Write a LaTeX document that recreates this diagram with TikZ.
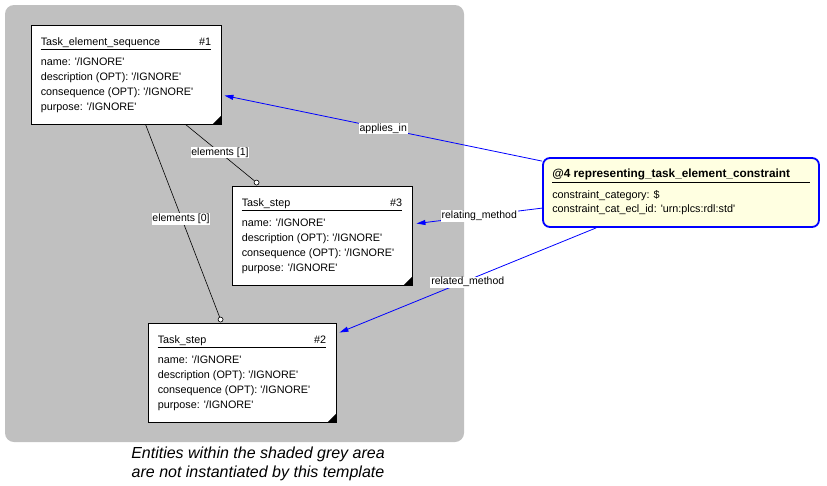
\documentclass[tikz,border=0pt]{standalone}
\usepackage{fontspec}
\setmainfont{Liberation Sans}
\usetikzlibrary{calc,arrows.meta}
\definecolor{greyarea}{RGB}{192,192,192}
\definecolor{notebg}{RGB}{255,255,225}
\definecolor{linkblue}{RGB}{0,0,255}
\newcommand\sq{\textquotesingle}
\begin{document}
\begin{tikzpicture}[x=1pt,y=-1pt,
  entity/.style={draw=black, fill=white, line width=0.9pt, inner sep=0pt},
  txt/.style={anchor=base west, inner sep=0pt, font=\fontsize{10.8}{12}\selectfont},
  num/.style={anchor=base east, inner sep=0pt, font=\fontsize{10.8}{12}\selectfont},
  ttl/.style={anchor=base west, inner sep=0pt, font=\fontsize{11.8}{13}\bfseries},
  uline/.style={line width=0.9pt},
  lbl/.style={fill=white, inner sep=0.8pt, font=\fontsize{10.5}{12}\selectfont},
  endcirc/.style={circle, draw=black, fill=white, line width=0.6pt, inner sep=0pt, minimum size=5pt},
  blk/.style={draw=black, line width=0.6pt},
  blu/.style={draw=linkblue, line width=0.8pt, -{Triangle[length=9pt,width=5pt]}},
  corner/.style={fill=black}
]
\useasboundingbox (0,0) rectangle (827,485);
\fill[greyarea, rounded corners=9pt] (5,5) rectangle (464,442);

% Box 1
\node[entity, minimum width=190pt, minimum height=99pt] (b1) at (126,74.5) {};
\node[txt] (b1t) at ($(b1.north west)+(10,21)$) {Task\_element\_sequence};
\node[num] (b1n) at ($(b1.north east)+(-10,21)$) {\#1};
\draw[uline] ($(b1.north west)+(10,25)$) -- ($(b1.north east)+(-10,25)$);
\node[txt] (b1a) at ($(b1.north west)+(10,41)$) {name: \sq/IGNORE\sq};
\node[txt] (b1b) at ($(b1.north west)+(10,56)$) {description (OPT): \sq/IGNORE\sq};
\node[txt] (b1c) at ($(b1.north west)+(10,71)$) {consequence (OPT): \sq/IGNORE\sq};
\node[txt] (b1d) at ($(b1.north west)+(10,86)$) {purpose: \sq/IGNORE\sq};
\fill[corner] ($(b1.south east)+(-9,0)$) -- (b1.south east) -- ($(b1.south east)+(0,-9)$) -- cycle;

% Box 3
\node[entity, minimum width=180pt, minimum height=99pt] (b3) at (322,235.5) {};
\node[txt] (b3t) at ($(b3.north west)+(10,21)$) {Task\_step};
\node[num] (b3n) at ($(b3.north east)+(-10,21)$) {\#3};
\draw[uline] ($(b3.north west)+(10,25)$) -- ($(b3.north east)+(-10,25)$);
\node[txt] (b3a) at ($(b3.north west)+(10,41)$) {name: \sq/IGNORE\sq};
\node[txt] (b3b) at ($(b3.north west)+(10,56)$) {description (OPT): \sq/IGNORE\sq};
\node[txt] (b3c) at ($(b3.north west)+(10,71)$) {consequence (OPT): \sq/IGNORE\sq};
\node[txt] (b3d) at ($(b3.north west)+(10,86)$) {purpose: \sq/IGNORE\sq};
\fill[corner] ($(b3.south east)+(-9,0)$) -- (b3.south east) -- ($(b3.south east)+(0,-9)$) -- cycle;

% Box 2
\node[entity, minimum width=188pt, minimum height=99pt] (b2) at (242,372.5) {};
\node[txt] (b2t) at ($(b2.north west)+(10,21)$) {Task\_step};
\node[num] (b2n) at ($(b2.north east)+(-10,21)$) {\#2};
\draw[uline] ($(b2.north west)+(10,25)$) -- ($(b2.north east)+(-10,25)$);
\node[txt] (b2a) at ($(b2.north west)+(10,41)$) {name: \sq/IGNORE\sq};
\node[txt] (b2b) at ($(b2.north west)+(10,56)$) {description (OPT): \sq/IGNORE\sq};
\node[txt] (b2c) at ($(b2.north west)+(10,71)$) {consequence (OPT): \sq/IGNORE\sq};
\node[txt] (b2d) at ($(b2.north west)+(10,86)$) {purpose: \sq/IGNORE\sq};
\fill[corner] ($(b2.south east)+(-9,0)$) -- (b2.south east) -- ($(b2.south east)+(0,-9)$) -- cycle;

% Box 4
\node[draw=linkblue, fill=notebg, line width=1.8pt, rounded corners=7pt, inner sep=0pt,
      minimum width=276pt, minimum height=69pt] (b4) at (681,192.5) {};
\node[ttl] (b4t) at ($(b4.north west)+(10,20)$) {@4 representing\_task\_element\_constraint};
\draw[uline] ($(b4.north west)+(10,25)$) -- ($(b4.north east)+(-10,25)$);
\node[txt] (b4a) at ($(b4.north west)+(10,41)$) {constraint\_category: \$};
\node[txt] (b4b) at ($(b4.north west)+(10,55)$) {constraint\_cat\_ecl\_id: \sq urn:plcs:rdl:std\sq};

% Connectors: elements
\coordinate (e1s) at ($(b1.south west)+(155,0)$);
\node[endcirc] (c1) at ($(b3.north west)+(25,-3)$) {};
\draw[blk] (e1s) -- (c1) node[lbl, pos=0.5] {elements [1]};
\coordinate (e0s) at ($(b1.south west)+(115,0)$);
\node[endcirc] (c0) at ($(b2.north west)+(73,-3)$) {};
\draw[blk] (e0s) -- (c0) node[lbl, pos=0.48, yshift=-2pt] {elements [0]};

% Connectors: blue
\coordinate (a1s) at ($(b4.north west)+(0,4)$);
\coordinate (a1e) at ($(b1.north east)+(3,71)$);
\draw[blu] (a1s) -- (a1e) node[lbl, pos=0.5] {applies\_in};
\coordinate (a2s) at ($(b4.north west)+(0,51)$);
\coordinate (a2e) at ($(b3.north east)+(4,38)$);
\draw[blu] (a2s) -- (a2e) node[lbl, pos=0.5] {relating\_method};
\coordinate (a3s) at ($(b4.south west)+(54,0)$);
\coordinate (a3e) at ($(b2.north east)+(3,10)$);
\draw[blu] (a3s) -- (a3e) node[lbl, pos=0.5, yshift=-2pt] {related\_method};

% Note
\node[align=center, inner sep=0pt, font=\fontsize{16}{19}\itshape] (note) at (258,463.5)
  {Entities within the shaded grey area\\are not instantiated by this template};
\end{tikzpicture}
\end{document}
